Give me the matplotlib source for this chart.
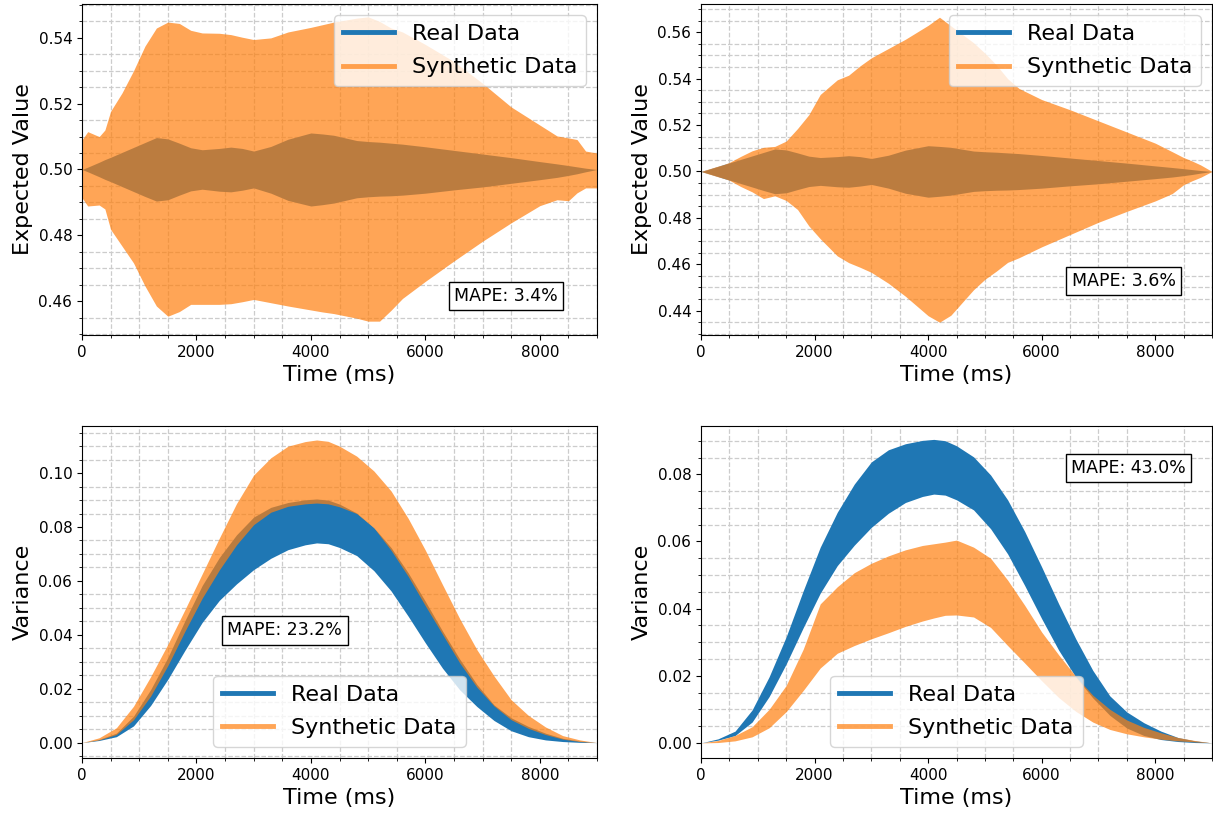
import matplotlib
matplotlib.use("Agg")
import matplotlib.pyplot as plt
from matplotlib.lines import Line2D
from matplotlib.ticker import MultipleLocator
import numpy as np

# ---- expected value panels (shared time grid, ms) ----
TIME_MEAN = [0, 100, 300, 400, 500, 700, 900, 1100, 1300, 1500, 1700, 1900,
             2100, 2400, 2600, 2800, 3000, 3300, 3600, 4000, 4200, 4400, 4800,
             5000, 5200, 5400, 5600, 6000, 6500, 7000, 7500, 8000, 8300, 8500,
             8650, 8800, 9000]

REAL_MEAN_UPPER = [0.5, 0.5007, 0.5022, 0.503, 0.5037, 0.5052, 0.5067, 0.5082,
                   0.5097, 0.5093, 0.508, 0.5066, 0.506, 0.5064, 0.5068, 0.5064,
                   0.5056, 0.507, 0.5092, 0.5111, 0.5108, 0.5104, 0.5088, 0.5085,
                   0.5083, 0.508, 0.5077, 0.5069, 0.5058, 0.5047, 0.5036, 0.5024,
                   0.5017, 0.5012, 0.5008, 0.5004, 0.5]
REAL_MEAN_LOWER = [0.5, 0.4993, 0.4978, 0.497, 0.4963, 0.4948, 0.4933, 0.4918,
                   0.4904, 0.4908, 0.4922, 0.4935, 0.494, 0.4934, 0.4932, 0.4937,
                   0.4944, 0.4928, 0.4906, 0.4889, 0.4893, 0.4898, 0.4914, 0.4917,
                   0.4919, 0.492, 0.4922, 0.4928, 0.4938, 0.4947, 0.4958, 0.4969,
                   0.4976, 0.4982, 0.4987, 0.4993, 0.5]

SYN_MEAN_A_UPPER = [0.509, 0.5115, 0.510, 0.512, 0.5177, 0.5233, 0.530, 0.5375,
                    0.543, 0.5448, 0.5444, 0.5423, 0.5415, 0.5414, 0.541, 0.5402,
                    0.5395, 0.540, 0.5418, 0.5432, 0.544, 0.5448, 0.546, 0.5464,
                    0.545, 0.543, 0.5418, 0.538, 0.5328, 0.5262, 0.519, 0.5135,
                    0.5102, 0.5096, 0.5091, 0.5056, 0.505]
SYN_MEAN_A_LOWER = [0.4914, 0.4889, 0.4892, 0.488, 0.4818, 0.4767, 0.4716, 0.4646,
                    0.4585, 0.4554, 0.4568, 0.459, 0.459, 0.459, 0.4592, 0.4598,
                    0.4605, 0.4595, 0.4585, 0.4573, 0.4567, 0.4562, 0.4548, 0.4539,
                    0.4539, 0.4572, 0.4608, 0.466, 0.4722, 0.4782, 0.4838, 0.489,
                    0.4908, 0.4905, 0.4929, 0.4944, 0.4944]

SYN_MEAN_B_UPPER = [0.5, 0.5008, 0.5023, 0.503, 0.5039, 0.5065, 0.5089, 0.5104,
                    0.5108, 0.5131, 0.5185, 0.5245, 0.5332, 0.5395, 0.5415, 0.5455,
                    0.549, 0.553, 0.557, 0.563, 0.5665, 0.5628, 0.5555, 0.551,
                    0.546, 0.540, 0.5358, 0.531, 0.5266, 0.5218, 0.517, 0.5122,
                    0.5085, 0.506, 0.5045, 0.5028, 0.5]
SYN_MEAN_B_LOWER = [0.5, 0.4992, 0.4977, 0.497, 0.4962, 0.4935, 0.4912, 0.4883,
                    0.4895, 0.4875, 0.4836, 0.4765, 0.471, 0.4636, 0.4607, 0.4587,
                    0.4565, 0.4518, 0.4462, 0.4378, 0.435, 0.438, 0.449, 0.4535,
                    0.457, 0.4608, 0.4628, 0.4675, 0.4728, 0.4781, 0.4828, 0.4873,
                    0.4905, 0.4943, 0.496, 0.4975, 0.5]

# ---- variance panels (shared time grid, ms) ----
TIME_VAR = [0, 300, 600, 900, 1200, 1500, 1800, 2100, 2400, 2700, 3000, 3300,
            3600, 3900, 4100, 4300, 4500, 4800, 5100, 5400, 5700, 6000, 6300,
            6600, 6900, 7200, 7500, 7800, 8100, 8400, 8700, 9000]

REAL_VAR_UPPER = [0, 0.0012, 0.0035, 0.0098, 0.0197, 0.0316, 0.0453, 0.0583,
                  0.0687, 0.0771, 0.0837, 0.0873, 0.0891, 0.0901, 0.0904, 0.0900,
                  0.0885, 0.0852, 0.0798, 0.0724, 0.0630, 0.0524, 0.0414, 0.0310,
                  0.0216, 0.0140, 0.0092, 0.0060, 0.0035, 0.0016, 0.0006, 0]
REAL_VAR_LOWER = [0, 0.0008, 0.0022, 0.0062, 0.0138, 0.0235, 0.0343, 0.0446,
                  0.0528, 0.0589, 0.0642, 0.0684, 0.0716, 0.0734, 0.0741, 0.0738,
                  0.0724, 0.0694, 0.0638, 0.0563, 0.0469, 0.0370, 0.0276, 0.0196,
                  0.0134, 0.0082, 0.0044, 0.0022, 0.0010, 0.0004, 0.0001, 0]

SYN_VAR_A_UPPER = [0, 0.0018, 0.0055, 0.0135, 0.0245, 0.0365, 0.0494, 0.0626,
                   0.0759, 0.0887, 0.0993, 0.1057, 0.1100, 0.1117, 0.1123, 0.1118,
                   0.1100, 0.1063, 0.1008, 0.0934, 0.0832, 0.0714, 0.0586, 0.0460,
                   0.0345, 0.0247, 0.0159, 0.0101, 0.0058, 0.0026, 0.0010, 0]
SYN_VAR_A_LOWER = [0, 0.0010, 0.0030, 0.0085, 0.0173, 0.0286, 0.0414, 0.0536,
                   0.0641, 0.0734, 0.0809, 0.0855, 0.0877, 0.0886, 0.0889, 0.0886,
                   0.0875, 0.0850, 0.0797, 0.0714, 0.0617, 0.0508, 0.0402, 0.0296,
                   0.0206, 0.0136, 0.0085, 0.0053, 0.0030, 0.0013, 0.0004, 0]

SYN_VAR_B_UPPER = [0, 0.0007, 0.0022, 0.0048, 0.0100, 0.0171, 0.0279, 0.0414,
                   0.0465, 0.0507, 0.0535, 0.0557, 0.0575, 0.0588, 0.0593, 0.0598,
                   0.0604, 0.0583, 0.0550, 0.0485, 0.0410, 0.0330, 0.0262, 0.0198,
                   0.0142, 0.0100, 0.0068, 0.0046, 0.0030, 0.0016, 0.0007, 0]
SYN_VAR_B_LOWER = [0, 0.0001, 0.0006, 0.0018, 0.0045, 0.0093, 0.0156, 0.0223,
                   0.0267, 0.0290, 0.0310, 0.0328, 0.0347, 0.0363, 0.0372, 0.0380,
                   0.0381, 0.0375, 0.0344, 0.0290, 0.0238, 0.0185, 0.0135, 0.0094,
                   0.0062, 0.0040, 0.0027, 0.0018, 0.0011, 0.0006, 0.0003, 0]

MAPE_LABELS = ["MAPE: 3.4%", "MAPE: 3.6%", "MAPE: 23.2%", "MAPE: 43.0%"]

REAL_COLOR = "#1f77b4"
SYN_COLOR = "#ff7f0e"


def draw_panel(ax, t, real_lo, real_hi, syn_lo, syn_hi, ylabel, ylim,
               mape, mape_xy, legend_loc):
    ax.set_axisbelow(True)
    ax.fill_between(t, real_lo, real_hi, color=REAL_COLOR, linewidth=0)
    ax.fill_between(t, syn_lo, syn_hi, color=SYN_COLOR, alpha=0.7, linewidth=0)
    ax.set_xlim(0, 9000)
    ax.set_ylim(*ylim)
    ax.xaxis.set_major_locator(MultipleLocator(2000))
    ax.xaxis.set_minor_locator(MultipleLocator(500))
    ax.yaxis.set_major_locator(MultipleLocator(0.02))
    ax.yaxis.set_minor_locator(MultipleLocator(0.005))
    ax.grid(which="minor", linestyle="--", color="#cccccc", linewidth=0.9)
    ax.tick_params(labelsize=11)
    ax.set_xlabel("Time (ms)", fontsize=16)
    ax.set_ylabel(ylabel, fontsize=16)
    ax.text(mape_xy[0], mape_xy[1], mape, transform=ax.transAxes, fontsize=12.5,
            ha="center", va="center",
            bbox=dict(boxstyle="square,pad=0.3", facecolor="white",
                      edgecolor="black"))
    handles = [Line2D([], [], color=REAL_COLOR, lw=3.5),
               Line2D([], [], color=SYN_COLOR, alpha=0.7, lw=3.5)]
    ax.legend(handles, ["Real Data", "Synthetic Data"], loc=legend_loc,
              fontsize=16, handlelength=2.3, labelspacing=0.6)


fig = plt.figure(figsize=(12.13, 8.16), dpi=100)
ax_tl = fig.add_axes([0.0676, 0.5895, 0.4246, 0.4056])
ax_tr = fig.add_axes([0.5779, 0.5895, 0.4213, 0.4056])
ax_bl = fig.add_axes([0.0676, 0.0711, 0.4246, 0.4069])
ax_br = fig.add_axes([0.5779, 0.0711, 0.4213, 0.4069])

draw_panel(ax_tl, TIME_MEAN, REAL_MEAN_LOWER, REAL_MEAN_UPPER,
           SYN_MEAN_A_LOWER, SYN_MEAN_A_UPPER, "Expected Value",
           (0.4497, 0.5503), MAPE_LABELS[0], (0.823, 0.118), "upper right")
draw_panel(ax_tr, TIME_MEAN, REAL_MEAN_LOWER, REAL_MEAN_UPPER,
           SYN_MEAN_B_LOWER, SYN_MEAN_B_UPPER, "Expected Value",
           (0.4295, 0.5722), MAPE_LABELS[1], (0.827, 0.163), "upper right")
draw_panel(ax_bl, TIME_VAR, REAL_VAR_LOWER, REAL_VAR_UPPER,
           SYN_VAR_A_LOWER, SYN_VAR_A_UPPER, "Variance",
           (-0.0057, 0.1175), MAPE_LABELS[2], (0.394, 0.384), "lower center")
draw_panel(ax_br, TIME_VAR, REAL_VAR_LOWER, REAL_VAR_UPPER,
           SYN_VAR_B_LOWER, SYN_VAR_B_UPPER, "Variance",
           (-0.0045, 0.0944), MAPE_LABELS[3], (0.837, 0.873), "lower center")

fig.savefig("out.png", dpi=100)
